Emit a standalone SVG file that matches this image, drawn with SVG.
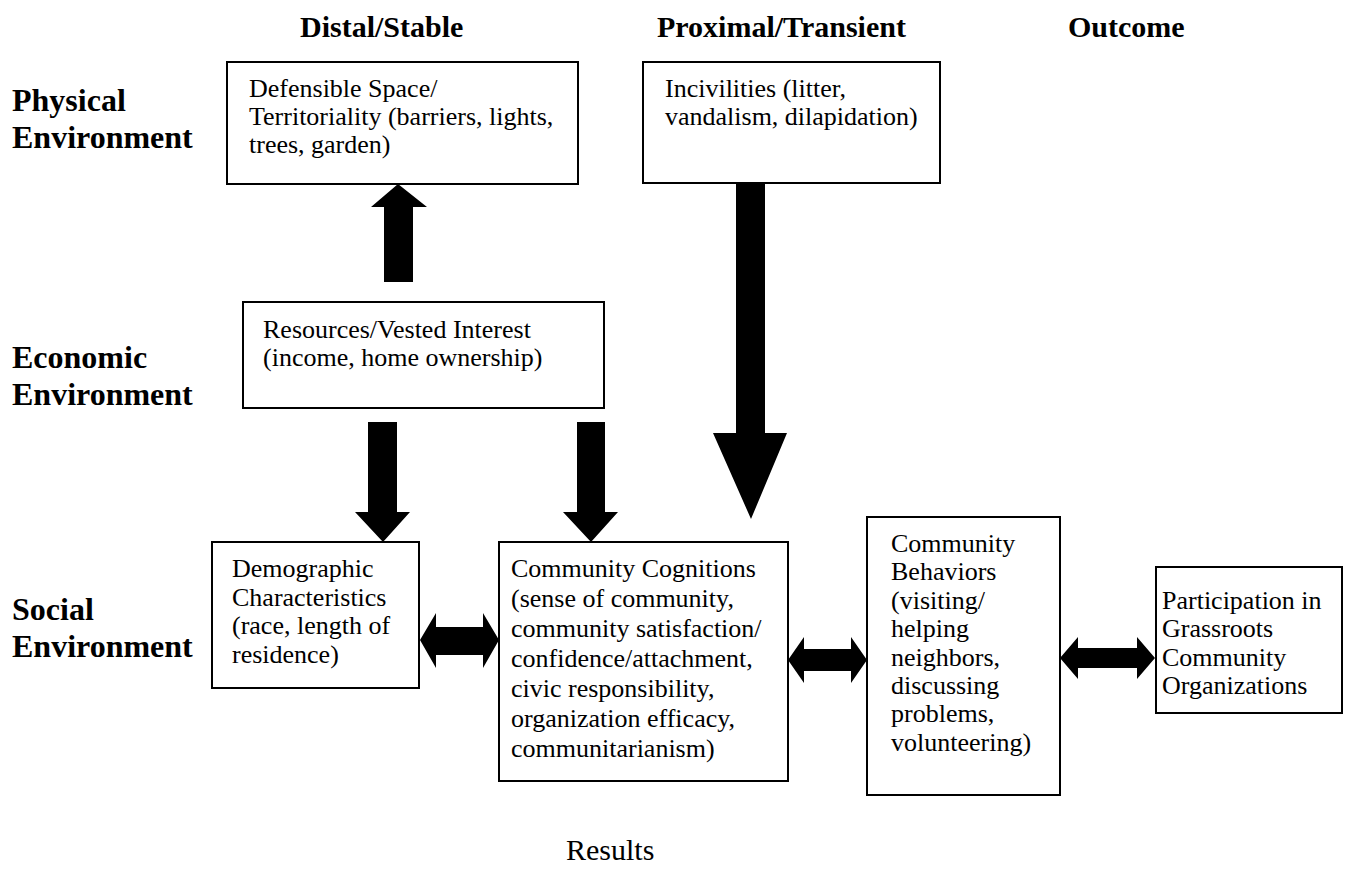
<svg xmlns="http://www.w3.org/2000/svg" width="1349" height="883" viewBox="0 0 1349 883">
<style>
.t{font-family:"Liberation Serif","Times New Roman",serif;font-size:26px;fill:#000}
.b{font-family:"Liberation Serif","Times New Roman",serif;font-size:32px;font-weight:bold;fill:#000}
.h{font-family:"Liberation Serif","Times New Roman",serif;font-size:30px;font-weight:bold;fill:#000}
.box{fill:#fff;stroke:#000;stroke-width:2}
.arr{fill:#000;stroke:none}
</style>
<rect width="1349" height="883" fill="#fff"/>
<g id="headers">
<text class="h" x="300" y="37">Distal/Stable</text>
<text class="h" x="657" y="37">Proximal/Transient</text>
<text class="h" x="1068" y="37">Outcome</text>
</g>
<g id="row-labels">
<text class="b"><tspan x="12" y="111">Physical</tspan><tspan x="12" y="147.5">Environment</tspan></text>
<text class="b"><tspan x="12" y="368">Economic</tspan><tspan x="12" y="404.5">Environment</tspan></text>
<text class="b"><tspan x="12" y="620">Social</tspan><tspan x="12" y="656.5">Environment</tspan></text>
</g>
<g id="connectors">
<polygon class="arr" points="398,184 427,207 413,207 413,282 384,282 384,207 371,207"/>
<polygon class="arr" points="368,422 397,422 397,512 410,512 383,542 355,512 368,512"/>
<polygon class="arr" points="577,422 605,422 605,512 618,512 591,542 563,512 577,512"/>
<polygon class="arr" points="736,183 765,183 765,433 787,433 751,519 713,433 736,433"/>
<polygon class="arr" points="420,640 436,613 436,627 483,627 483,613 499,640 483,668 483,655 436,655 436,668"/>
<polygon class="arr" points="788,660 804,637 804,649 851,649 851,637 867,660 851,683 851,671 804,671 804,683"/>
<polygon class="arr" points="1060,658 1078,637 1078,648 1137,648 1137,637 1155,658 1137,679 1137,668 1078,668 1078,679"/>
</g>
<g id="defensible">
<rect class="box" x="227" y="62" width="351" height="122"/>
<text class="t"><tspan x="249" y="97">Defensible Space/</tspan><tspan x="249" y="125">Territoriality (barriers, lights,</tspan><tspan x="249" y="153">trees, garden)</tspan></text>
</g>
<g id="incivilities">
<rect class="box" x="643" y="62" width="297" height="121"/>
<text class="t"><tspan x="665" y="97">Incivilities (litter,</tspan><tspan x="665" y="125">vandalism, dilapidation)</tspan></text>
</g>
<g id="resources">
<rect class="box" x="243" y="302" width="361" height="106"/>
<text class="t"><tspan x="263" y="338">Resources/Vested Interest</tspan><tspan x="263" y="366">(income, home ownership)</tspan></text>
</g>
<g id="demographic">
<rect class="box" x="212" y="542" width="207" height="146"/>
<text class="t"><tspan x="232" y="577">Demographic</tspan><tspan x="232" y="605.5">Characteristics</tspan><tspan x="232" y="634">(race, length of</tspan><tspan x="232" y="662.5">residence)</tspan></text>
</g>
<g id="cognitions">
<rect class="box" x="499" y="542" width="289" height="239"/>
<text class="t"><tspan x="511" y="577">Community Cognitions</tspan><tspan x="511" y="607">(sense of community,</tspan><tspan x="511" y="637">community satisfaction/</tspan><tspan x="511" y="667">confidence/attachment,</tspan><tspan x="511" y="697">civic responsibility,</tspan><tspan x="511" y="727">organization efficacy,</tspan><tspan x="511" y="757">communitarianism)</tspan></text>
</g>
<g id="behaviors">
<rect class="box" x="867" y="517" width="193" height="278"/>
<text class="t"><tspan x="891" y="552">Community</tspan><tspan x="891" y="580.4">Behaviors</tspan><tspan x="891" y="608.8">(visiting/</tspan><tspan x="891" y="637.2">helping</tspan><tspan x="891" y="665.6">neighbors,</tspan><tspan x="891" y="694">discussing</tspan><tspan x="891" y="722.4">problems,</tspan><tspan x="891" y="750.8">volunteering)</tspan></text>
</g>
<g id="participation">
<rect class="box" x="1156" y="567" width="186" height="146"/>
<text class="t"><tspan x="1162" y="609">Participation in</tspan><tspan x="1162" y="637.3">Grassroots</tspan><tspan x="1162" y="665.6">Community</tspan><tspan x="1162" y="694">Organizations</tspan></text>
</g>
<g id="caption">
<text class="t" style="font-size:30px" x="566" y="860">Results</text>
</g>
</svg>
